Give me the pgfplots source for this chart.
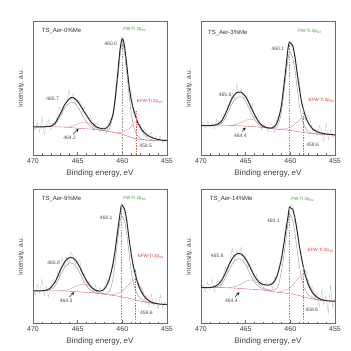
\documentclass[border=0pt]{standalone}
\usepackage{fontspec}
\setmainfont{Liberation Sans}
\usepackage{pgfplots}
\pgfplotsset{compat=1.18}
\definecolor{cEnv}{HTML}{2B2B2B}
\definecolor{cComp}{HTML}{9A9A9A}
\definecolor{cRaw}{HTML}{C6C6C6}
\definecolor{cRedc}{HTML}{E89A9A}
\definecolor{cBase}{HTML}{D06060}
\definecolor{cGreen}{HTML}{3C9A3C}
\definecolor{cRed}{HTML}{E03030}
\definecolor{cFrame}{HTML}{6A6A6A}
\newcommand\fs[1]{\fontsize{#1}{#1}\selectfont}
\pgfplotsset{xps/.style={
  scale only axis, width=134pt, height=134pt, anchor=south west,
  x dir=reverse, xmin=455, xmax=470, ymin=0, ymax=100,
  xtick={455,460,465,470}, ytick=\empty, minor x tick num=4,
  tick align=inside, xtick pos=bottom,
  major tick length=3pt, minor tick length=1.5pt,
  axis line style={cFrame, line width=0.6pt},
  every tick/.style={cFrame, line width=0.4pt},
  /pgf/number format/assume math mode=true,
  tick label style={font=\fs{7}, text=black!75},
  xlabel={Binding energy, eV}, ylabel={Intensity, a.u.},
  xlabel style={font=\fs{8}, text=black!75, yshift=1pt},
  ylabel style={font=\fs{6.5}, text=black!75, at={(-0.04,0.5)}, anchor=south},
  clip mode=individual,
  pRaw/.style={cRaw, line width=0.35pt, sharp plot},
  pComp/.style={cComp, line width=0.45pt, smooth},
  pRed/.style={cRedc, line width=0.45pt, smooth},
  pBase/.style={cBase, line width=0.4pt, smooth},
  pEnv/.style={cEnv, line width=1.0pt, smooth},
  vGray/.style={black!40, dashed, dash pattern=on 1.5pt off 1.2pt, line width=0.4pt},
  vRed/.style={cRed!80, dashed, dash pattern=on 1.5pt off 1.2pt, line width=0.4pt},
}}
\begin{document}
\begin{tikzpicture}
\useasboundingbox (0,0) rectangle (351pt,351pt);
% ---------------- Panel 1 ----------------
\begin{axis}[xps, at={(33pt,196pt)}]
\addplot[pRaw] coordinates {(470,21) (469.75,19) (469.5,24) (469.25,17) (469,29) (468.75,15) (468.5,23.2) (468.25,26.4) (468,18.5) (467.75,23.5) (467.5,22) (467.25,31) (467,36) (466.75,30.5) (466.5,39) (466.25,38.5) (466,48.5) (465.75,40.8) (465.5,45.8) (465.25,37.8) (465,41) (464.75,39.5) (464.5,32) (464.25,36) (464,27.5) (463.75,28) (463.5,27.5) (463.25,18) (463,23.5) (462.75,24.5) (462.5,17) (462.25,20.6) (462,21.5) (461.75,16.3) (461.5,25) (461.25,27) (461,30) (460.75,50) (460.5,59) (460.25,81) (460,88) (459.75,77) (459.5,70) (459.25,50) (459,47) (458.75,31) (458.5,32.5) (458.25,19) (458,23) (457.75,17.2) (457.5,19.5) (457.25,13) (457,15) (456.75,17.2) (456.5,9.5) (456.25,14) (456,10.6) (455.75,14.3) (455.5,9) (455.25,11.9) (455,10.8)};
\addplot[pBase] coordinates {(470,21) (467,21) (465,20) (463,19) (461.5,17.5) (460,15.5) (459,13) (458,11.5) (456.5,10.8) (455,10.5)};
\addplot[pComp] coordinates {(469,21) (468,21.3) (467.5,23) (467,28) (466.5,34.5) (466,38.5) (465.7,39.5) (465.4,39) (465,36) (464.5,30) (464,24.5) (463.5,21) (463,19.3) (462,18)};
\addplot[pComp] coordinates {(462,18.2) (461.5,19) (461.25,24) (461,30) (460.75,42) (460.5,57) (460.25,74) (460,83) (459.75,76) (459.5,61) (459.25,45) (459,31) (458.75,22) (458.5,17) (458.25,14) (458,12.4) (457.5,11.4) (457,11) (456,10.7)};
\addplot[pRed] coordinates {(461.5,17.5) (461,17) (460.5,16.6) (460,17) (459.5,18.5) (459,21) (458.75,23.5) (458.5,25) (458.25,23.5) (458,19.5) (457.5,14.5) (457,12) (456.5,11) (456,10.7)};
\addplot[pRed] coordinates {(466.5,20.7) (466,20.9) (465.5,21.7) (465,23) (464.6,24.2) (464.2,24.6) (463.8,24) (463.3,22) (462.8,19.9) (462.3,18.4)};
\addplot[pEnv] coordinates {(470,21) (469.75,21) (469.5,21) (469.25,21) (469,21) (468.75,21) (468.5,21.2) (468.25,21.4) (468,21.5) (467.75,22.5) (467.5,24) (467.25,27) (467,30) (466.75,33.5) (466.5,37) (466.25,39.5) (466,41.5) (465.75,42.8) (465.5,42.8) (465.25,41.8) (465,40) (464.75,37.5) (464.5,35) (464.25,32) (464,29.5) (463.75,27) (463.5,24.5) (463.25,23) (463,21.5) (462.75,20.5) (462.5,20) (462.25,19.6) (462,19.5) (461.75,20.3) (461.5,22) (461.25,26) (461,32) (460.75,45) (460.5,62) (460.25,79) (460,87) (459.75,81) (459.5,67) (459.25,52) (459,41) (458.75,34) (458.5,28.5) (458.25,24) (458,21) (457.75,18.2) (457.5,16.5) (457.25,15) (457,14) (456.75,13.2) (456.5,12.5) (456.25,12) (456,11.6) (455.75,11.3) (455.5,11) (455.25,10.9) (455,10.8)};
\addplot[vGray] coordinates {(460,0) (460,87)};
\addplot[vRed] coordinates {(458.5,0) (458.5,33)};
\node[anchor=west, font=\fs{6}, text=black!80] at (axis cs:469.4,92.7) {TS\_Aer-0\%Me};
\node[font=\fs{4.5}, text=cGreen] at (axis cs:458.6,93.5) {FW-Ti 2p\textsubscript{3/2}};
\node[font=\fs{5}, text=black!70] at (axis cs:461.3,83) {460.0};
\node[font=\fs{5}, text=black!70] at (axis cs:467.8,41.6) {465.7};
\node[font=\fs{4.5}, text=cRed] at (axis cs:456.9,40) {EFW-Ti 2p\textsubscript{3/2}};
\node[font=\fs{5}, text=black!70] at (axis cs:465.9,12.8) {464.2};
\draw[-stealth, line width=0.4pt] (axis cs:465.5,15.5) -- (axis cs:464.9,19.5);
\node[font=\fs{5}, text=black!70] at (axis cs:457.4,7) {458.5};
\end{axis}
% ---------------- Panel 2 ----------------
\begin{axis}[xps, at={(201pt,196pt)}]
\addplot[pRaw] coordinates {(470,22) (469.75,23) (469.5,20) (469.25,25) (469,21) (468.75,24) (468.5,19.3) (468.25,26.8) (468,24.5) (467.75,23) (467.5,30.5) (467.25,30) (467,37) (466.75,34) (466.5,46.5) (466.25,42) (466,52.5) (465.75,45) (465.5,49.8) (465.25,41.5) (465,44.5) (464.75,42.5) (464.5,34) (464.25,38.5) (464,28) (463.75,28) (463.5,27.5) (463.25,18.5) (463,23.3) (462.75,21.5) (462.5,17.2) (462.25,24) (462,22.3) (461.75,16.5) (461.5,27) (461.25,30) (461,35) (460.75,54) (460.5,62) (460.25,82) (460,84.5) (459.75,78) (459.5,77) (459.25,60) (459,57) (458.75,39) (458.5,35) (458.25,25) (458,30) (457.75,25.5) (457.5,17.5) (457.25,19.3) (457,14.5) (456.75,21.8) (456.5,18.3) (456.25,10) (456,23.7) (455.75,11.5) (455.5,18.3) (455.25,13.1) (455,15)};
\addplot[pBase] coordinates {(470,22) (467,22) (465,21.5) (463,20.5) (461.5,19.3) (460,18.3) (459,17.3) (458,16.3) (456.5,15.4) (455,15)};
\addplot[pComp] coordinates {(469,22) (468,22.6) (467.5,25) (467,31.5) (466.5,38.5) (466,42.5) (465.6,43.5) (465.25,42.5) (465,40) (464.5,33) (464,26.5) (463.5,22.5) (463,20.8) (462,20.2)};
\addplot[pComp] coordinates {(462,20.2) (461.5,21) (461.25,25) (461,32) (460.75,45) (460.5,59) (460.25,72) (460.1,77) (460,76.5) (459.75,73) (459.5,64) (459.25,51) (459,38) (458.75,29) (458.5,23) (458.25,19.5) (458,17.3) (457.5,16.1) (457,15.6) (456,15.2)};
\addplot[pRed] coordinates {(461.5,19.3) (461,19.3) (460.5,19.7) (460,20.8) (459.5,23) (459,26) (458.6,28) (458.2,26.3) (457.8,22) (457.4,18.3) (457,16.5) (456.5,15.6) (456,15.3)};
\addplot[pRed] coordinates {(467,22) (466.5,22.3) (466,23) (465.5,24.3) (465,25.8) (464.6,26.6) (464.4,26.7) (464,26) (463.5,24) (463,21.8) (462.5,20.6) (462,20)};
\addplot[pEnv] coordinates {(470,22) (469.75,22) (469.5,22) (469.25,22) (469,22) (468.75,22) (468.5,22.3) (468.25,22.8) (468,23.5) (467.75,25) (467.5,27.5) (467.25,31) (467,35) (466.75,39) (466.5,42.5) (466.25,45) (466,46.5) (465.75,47) (465.5,46.8) (465.25,45.5) (465,43.5) (464.75,40.5) (464.5,37) (464.25,33.5) (464,30) (463.75,27) (463.5,24.5) (463.25,22.5) (463,21.3) (462.75,20.5) (462.5,20.2) (462.25,20) (462,20.3) (461.75,21.5) (461.5,24) (461.25,29) (461,37) (460.75,50) (460.5,65) (460.25,80) (460.1,84.2) (460,83.5) (459.75,82) (459.5,74) (459.25,62) (459,50) (458.75,40) (458.5,33) (458.25,28) (458,24) (457.75,21.5) (457.5,19.5) (457.25,18.3) (457,17.5) (456.75,16.8) (456.5,16.3) (456.25,16) (456,15.7) (455.75,15.5) (455.5,15.3) (455.25,15.1) (455,15)};
\addplot[vGray] coordinates {(460.1,0) (460.1,84)};
\addplot[vRed] coordinates {(458.6,0) (458.6,36)};
\node[anchor=west, font=\fs{6}, text=black!80] at (axis cs:469.6,91) {TS\_Aer-3\%Me};
\node[font=\fs{4.5}, text=cGreen] at (axis cs:457.8,92) {FW-Ti 2p\textsubscript{3/2}};
\node[font=\fs{5}, text=black!70] at (axis cs:461.4,79) {460.1};
\node[font=\fs{5}, text=black!70] at (axis cs:467.3,44.7) {465.6};
\node[font=\fs{4.5}, text=cRed] at (axis cs:456.5,41) {EFW-Ti 2p\textsubscript{3/2}};
\node[font=\fs{5}, text=black!70] at (axis cs:465.6,14.7) {464.4};
\draw[-stealth, line width=0.4pt] (axis cs:465.4,17.5) -- (axis cs:465.0,20.5);
\node[font=\fs{5}, text=black!70] at (axis cs:457.5,7.4) {458.6};
\end{axis}
% ---------------- Panel 3 ----------------
\begin{axis}[xps, at={(33pt,28pt)}]
\addplot[pRaw] coordinates {(470,25) (469.75,21) (469.5,29) (469.25,22) (469,33) (468.75,20.2) (468.5,27.5) (468.25,19.2) (468,28.5) (467.75,32.5) (467.5,29) (467.25,37.5) (467,34.5) (466.75,49) (466.5,42) (466.25,49.3) (466,43.5) (465.75,53) (465.5,49.5) (465.25,44) (465,46.5) (464.75,46.5) (464.5,36) (464.25,37.5) (464,27.5) (463.75,31) (463.5,28) (463.25,22.5) (463,28.5) (462.75,22) (462.5,26.8) (462.25,20.3) (462,27.5) (461.75,33) (461.5,29) (461.25,39) (461,44) (460.75,60) (460.5,66) (460.25,84) (460,88.5) (459.75,82) (459.5,80) (459.25,61) (459,54) (458.75,38) (458.5,40) (458.25,26.5) (458,27) (457.75,26) (457.5,17.5) (457.25,20.8) (457,11.5) (456.75,21.6) (456.5,13) (456.25,17.6) (456,10.3) (455.75,21.1) (455.5,11) (455.25,15.9) (455,12.8)};
\addplot[pBase] coordinates {(470,24) (467,24) (465,23.3) (463,22.3) (461.5,21) (460,19.5) (459,18) (458,16.3) (456.5,14.5) (455,13.8)};
\addplot[pComp] coordinates {(469,24) (468,25) (467.5,28) (467,34.5) (466.5,41) (466,44.5) (465.8,45) (465.5,44.3) (465,40.5) (464.5,33.5) (464,27.5) (463.5,24.3) (463,22.8) (462,21.8)};
\addplot[pComp] coordinates {(462.5,22) (462,22) (461.5,23) (461.25,27) (461,35) (460.75,49) (460.5,63) (460.25,76) (460.1,80) (460,79.5) (459.75,76) (459.5,66) (459.25,52) (459,38.5) (458.75,29.5) (458.5,24) (458.25,20.5) (458,18.3) (457.5,16.3) (457,15.3) (456,14.3)};
\addplot[pRed] coordinates {(461.5,21) (461,21.3) (460.5,22.2) (460,23.8) (459.5,27) (459,30.5) (458.6,32.5) (458.2,30) (457.8,24.5) (457.4,19.5) (457,16.7) (456.5,15) (456,14.3)};
\addplot[pRed] coordinates {(467,24) (466.5,24.3) (466,25) (465.5,26.5) (465,28) (464.6,28.8) (464.3,29) (464,28.3) (463.5,26.5) (463,24) (462.5,22.5) (462,22)};
\addplot[pEnv] coordinates {(470,24) (469.75,24) (469.5,24) (469.25,24) (469,24) (468.75,24.2) (468.5,24.5) (468.25,25.2) (468,26.5) (467.75,28.5) (467.5,31) (467.25,34.5) (467,38.5) (466.75,42) (466.5,45) (466.25,47.3) (466,48.5) (465.75,49) (465.5,48.5) (465.25,47) (465,44.5) (464.75,41.5) (464.5,38) (464.25,34.5) (464,31.5) (463.75,29) (463.5,27) (463.25,25.5) (463,24.5) (462.75,24) (462.5,23.8) (462.25,24.3) (462,25.5) (461.75,28) (461.5,32) (461.25,38) (461,46) (460.75,57) (460.5,70) (460.25,82) (460.1,88) (460,87.5) (459.75,85) (459.5,76) (459.25,63) (459,51) (458.75,42) (458.5,35) (458.25,29.5) (458,25) (457.75,22) (457.5,19.5) (457.25,17.8) (457,16.5) (456.75,15.6) (456.5,15) (456.25,14.6) (456,14.3) (455.75,14.1) (455.5,14) (455.25,13.9) (455,13.8)};
\addplot[vGray] coordinates {(460.1,0) (460.1,88)};
\addplot[vRed] coordinates {(458.6,0) (458.6,40)};
\node[anchor=west, font=\fs{6}, text=black!80] at (axis cs:469.4,92.5) {TS\_Aer-9\%Me};
\node[font=\fs{4.5}, text=cGreen] at (axis cs:458.6,93) {FW-Ti 2p\textsubscript{3/2}};
\node[font=\fs{5}, text=black!70] at (axis cs:461.8,78.8) {460.1};
\node[font=\fs{5}, text=black!70] at (axis cs:467.7,45) {465.8};
\node[font=\fs{4.5}, text=cRed] at (axis cs:456.8,50) {EFW-Ti 2p\textsubscript{3/2}};
\node[font=\fs{5}, text=black!70] at (axis cs:466.3,16.3) {464.3};
\draw[-stealth, line width=0.4pt] (axis cs:465.9,19.5) -- (axis cs:465.4,23);
\node[font=\fs{5}, text=black!70] at (axis cs:457.3,8) {458.6};
\end{axis}
% ---------------- Panel 4 ----------------
\begin{axis}[xps, at={(201pt,28pt)}]
\addplot[pRaw] coordinates {(470,25.4) (469.75,28.4) (469.5,23.4) (469.25,30.4) (469,24.5) (468.75,32.7) (468.5,23.2) (468.25,30) (468,32.3) (467.75,26.3) (467.5,36) (467.25,41.5) (467,38.5) (466.75,47) (466.5,56) (466.25,46.3) (466,54.5) (465.75,50) (465.5,56.5) (465.25,47) (465,49.7) (464.75,41) (464.5,44.5) (464.25,39) (464,32) (463.75,36.5) (463.5,28.5) (463.25,31.3) (463,25.7) (462.75,31.4) (462.5,27.3) (462.25,30.5) (462,25.5) (461.75,34.5) (461.5,33) (461.25,44.5) (461,45) (460.75,60) (460.5,74) (460.25,77) (460,88) (459.75,88) (459.5,75) (459.25,74) (459,56) (458.75,52.5) (458.5,35.5) (458.25,40) (458,26) (457.75,27.3) (457.5,27.5) (457.25,16.6) (457,22.2) (456.75,12.2) (456.5,24.5) (456.25,14) (456,20.7) (455.75,7.5) (455.5,28.4) (455.25,11.3) (455,18.3)};
\addplot[pBase] coordinates {(470,26.4) (467,26.3) (465,25.5) (463,24.5) (461.5,23) (460,21.8) (459,20.5) (458,18.7) (456.5,16.8) (455,16.3)};
\addplot[pComp] coordinates {(469,26.4) (468,27.5) (467.5,31) (467,37.5) (466.5,44) (466,47.5) (465.8,48) (465.5,47.3) (465,43.5) (464.5,36.5) (464,30.5) (463.5,27) (463,25.3) (462,24.3)};
\addplot[pComp] coordinates {(462.5,24.3) (462,24.5) (461.5,26) (461.25,30.5) (461,38.5) (460.75,49) (460.5,62) (460.25,75) (460.1,81) (460,80.5) (459.75,77) (459.5,68) (459.25,55) (459,43) (458.75,33.5) (458.5,27) (458.25,23.3) (458,21) (457.5,18.8) (457,17.6) (456,16.6)};
\addplot[pRed] coordinates {(461.5,23) (461,23.4) (460.5,24.5) (460,26.5) (459.5,30) (459,34) (458.6,36.4) (458.2,34) (457.8,28) (457.4,22.5) (457,19.3) (456.5,17.3) (456,16.6)};
\addplot[pRed] coordinates {(467,26.3) (466.5,26.7) (466,27.6) (465.5,29.2) (465,31) (464.6,32) (464.4,32.2) (464,31.3) (463.5,29) (463,26.3) (462.5,24.8) (462,24.2)};
\addplot[pEnv] coordinates {(470,26.4) (469.75,26.4) (469.5,26.4) (469.25,26.4) (469,26.5) (468.75,26.7) (468.5,27.2) (468.25,28) (468,29.3) (467.75,31.3) (467.5,34) (467.25,37.5) (467,41.5) (466.75,45) (466.5,48) (466.25,50.3) (466,51.5) (465.75,52) (465.5,51.5) (465.25,50) (465,47.7) (464.75,45) (464.5,41.5) (464.25,38) (464,35) (463.75,32.5) (463.5,30.5) (463.25,29.3) (463,28.7) (462.75,28.4) (462.5,28.3) (462.25,28.5) (462,29.5) (461.75,31.5) (461.5,35) (461.25,40.5) (461,48) (460.75,58) (460.5,69) (460.25,80) (460.1,86.7) (460,86) (459.75,85) (459.5,79) (459.25,69) (459,58) (458.75,48.5) (458.5,40.5) (458.25,34) (458,29) (457.75,25.3) (457.5,22.5) (457.25,20.6) (457,19.2) (456.75,18.2) (456.5,17.5) (456.25,17) (456,16.7) (455.75,16.5) (455.5,16.4) (455.25,16.3) (455,16.3)};
\addplot[vGray] coordinates {(460.1,0) (460.1,87)};
\addplot[vRed] coordinates {(458.6,0) (458.6,44)};
\node[anchor=west, font=\fs{6}, text=black!80] at (axis cs:469.4,92.5) {TS\_Aer-14\%Me};
\node[font=\fs{4.5}, text=cGreen] at (axis cs:458.6,92) {FW-Ti 2p\textsubscript{3/2}};
\node[font=\fs{5}, text=black!70] at (axis cs:461.9,76) {460.1};
\node[font=\fs{5}, text=black!70] at (axis cs:468.2,50) {465.8};
\node[font=\fs{4.5}, text=cRed] at (axis cs:456.6,54) {EFW-Ti 2p\textsubscript{3/2}};
\node[font=\fs{5}, text=black!70] at (axis cs:466.6,16.3) {464.4};
\draw[-stealth, line width=0.4pt] (axis cs:466.2,19.5) -- (axis cs:465.7,23);
\node[font=\fs{5}, text=black!70] at (axis cs:457.6,9.5) {458.6};
\end{axis}
\end{tikzpicture}
\end{document}
